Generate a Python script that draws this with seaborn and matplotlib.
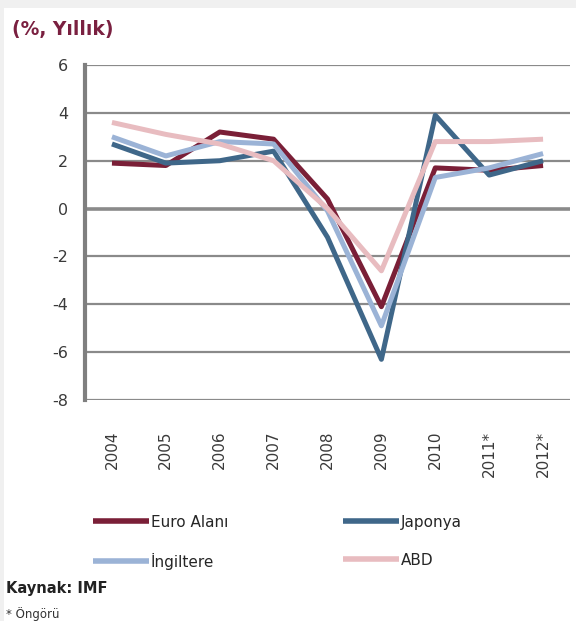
import matplotlib
matplotlib.use("Agg")
import matplotlib.pyplot as plt
import pandas as pd
import seaborn as sns

YEARS = ["2004", "2005", "2006", "2007", "2008", "2009", "2010", "2011*", "2012*"]
EURO = [1.9, 1.8, 3.2, 2.9, 0.4, -4.1, 1.7, 1.6, 1.8]
JAPAN = [2.7, 1.9, 2.0, 2.4, -1.2, -6.3, 3.9, 1.4, 2.0]
UK = [3.0, 2.2, 2.8, 2.7, -0.1, -4.9, 1.3, 1.7, 2.3]
USA = [3.6, 3.1, 2.7, 2.0, 0.0, -2.6, 2.8, 2.8, 2.9]
SERIES = ["Euro Alanı", "Japonya", "İngiltere", "ABD"]
Y_TICKS = [-8, -6, -4, -2, 0, 2, 4, 6]

PALETTE = {
    "Euro Alanı": "#7A1F37",
    "Japonya": "#3F6789",
    "İngiltere": "#9BB3D6",
    "ABD": "#E8BCC0",
}
GRID_COLOR = "#8A8A8A"

sns.set_theme(style="white")
plt.rcParams["font.family"] = ["DejaVu Sans"]

df = pd.DataFrame({
    "year": YEARS * 4,
    "value": EURO + JAPAN + UK + USA,
    "series": [s for s in SERIES for _ in YEARS],
})

fig = plt.figure(figsize=(5.76, 6.21), dpi=100)
fig.patch.set_facecolor("#F0F0F0")
# white panel behind everything
fig.patches.append(plt.Rectangle((0.007, 0.0), 0.993, 0.987, transform=fig.transFigure,
                                 facecolor="white", edgecolor="none", zorder=-1))

ax = fig.add_axes([0.1476, 0.3559, 0.842, 0.5394])
ax.set_facecolor("white")

sns.lineplot(data=df, x="year", y="value", hue="series", hue_order=SERIES,
             palette=PALETTE, linewidth=3.6, sort=False, ax=ax, legend=True,
             solid_capstyle="butt")

ax.set_xlim(-0.5, len(YEARS) - 0.5)
ax.set_ylim(-8, 6)
ax.set_yticks(Y_TICKS)
ax.set_yticklabels([str(t) for t in Y_TICKS], fontsize=11.5, color="#3A3A3A")
ax.set_xticks(range(len(YEARS)))
ax.set_xticklabels(YEARS, rotation=90, fontsize=11, color="#3A3A3A")
ax.tick_params(axis="x", length=0, pad=22)
ax.tick_params(axis="y", length=0, pad=12)
ax.set_xlabel("")
ax.set_ylabel("")

for t in Y_TICKS:
    ax.axhline(t, color=GRID_COLOR, linewidth=2.6 if t == 0 else 1.6, zorder=0)
for side in ["top", "right", "bottom"]:
    ax.spines[side].set_visible(False)
ax.spines["left"].set_color("#7F7F7F")
ax.spines["left"].set_linewidth(3)

handles, labels = ax.get_legend_handles_labels()
ax.get_legend().remove()
for h in handles:
    h.set_linewidth(4)
order = [0, 2, 1, 3]
fig.legend([handles[i] for i in order], [labels[i] for i in order],
           loc="upper left", bbox_to_anchor=(0.15, 0.181), ncol=2,
           frameon=False, fontsize=11, handlelength=3.7, handletextpad=0.1,
           columnspacing=7.5, labelspacing=1.5, borderaxespad=0)

fig.text(0.02, 0.952, "(%, Yıllık)", fontsize=13.5, fontweight="bold",
         color="#7A2040", ha="left", va="center")
fig.text(0.01, 0.053, "Kaynak: IMF", fontsize=10.5, fontweight="bold",
         color="#222222", ha="left", va="center")
fig.text(0.01, 0.012, "* Öngörü", fontsize=8.5, color="#333333",
         ha="left", va="center")

fig.savefig("out.png", dpi=100, facecolor=fig.get_facecolor())
